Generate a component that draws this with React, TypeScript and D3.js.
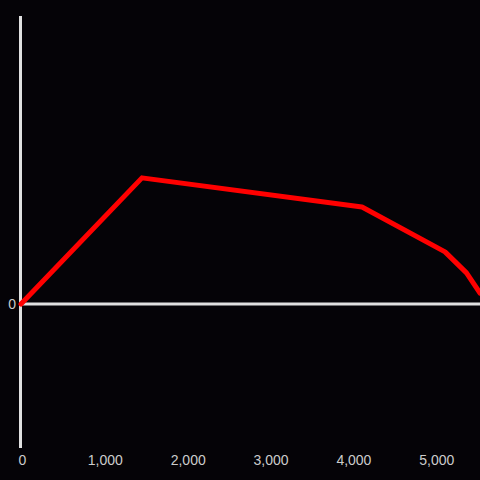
import React from "react";
import * as d3 from "d3";

const xValues = [0, 1460, 4116, 5118, 5377, 5540];
const yValues = [0, 43.8, 33.7, 18.1, 10.8, 3.8];
const xTicks = [0, 1000, 2000, 3000, 4000, 5000];
const yTicks = [0];

export default function App() {
  const W = 480, H = 480;
  const x = d3.scaleLinear().domain([0, 5540]).range([21, 480]);
  const y = d3.scaleLinear().domain([-50, 100]).range([448, 16]);
  const pts: [number, number][] = xValues.map((v, i) => [x(v), y(yValues[i])]);
  const line = d3.line<[number, number]>().x(d => d[0]).y(d => d[1]);
  const fmt = d3.format(",");
  return (
    <svg width={W} height={H} style={{ position: "absolute", left: 0, top: 0, background: "#050307" }}>
      <rect x={0} y={0} width={W} height={H} fill="#050307" />
      <line x1={x(0) - 0.5} x2={x(0) - 0.5} y1={y.range()[1]} y2={y.range()[0]} stroke="#e0e0e0" strokeWidth={3} />
      {yTicks.map(t => (
        <g key={t}>
          <line x1={x(0)} x2={480} y1={y(t)} y2={y(t)} stroke="#e0e0e0" strokeWidth={3} />
          <text x={x(0) - 5} y={y(t)} dy="0.36em" textAnchor="end" fill="#cccccc" fontFamily="Liberation Sans, Arial, sans-serif" fontSize={14}>{t}</text>
        </g>
      ))}
      {xTicks.map(t => (
        <text key={t} x={x(t) + 1.5} y={465} textAnchor="middle" fill="#cccccc" fontFamily="Liberation Sans, Arial, sans-serif" fontSize={14}>{fmt(t)}</text>
      ))}
      <path d={line(pts) || ""} fill="none" stroke="#ff0000" strokeWidth={5} strokeLinejoin="round" strokeLinecap="round" />
    </svg>
  );
}
